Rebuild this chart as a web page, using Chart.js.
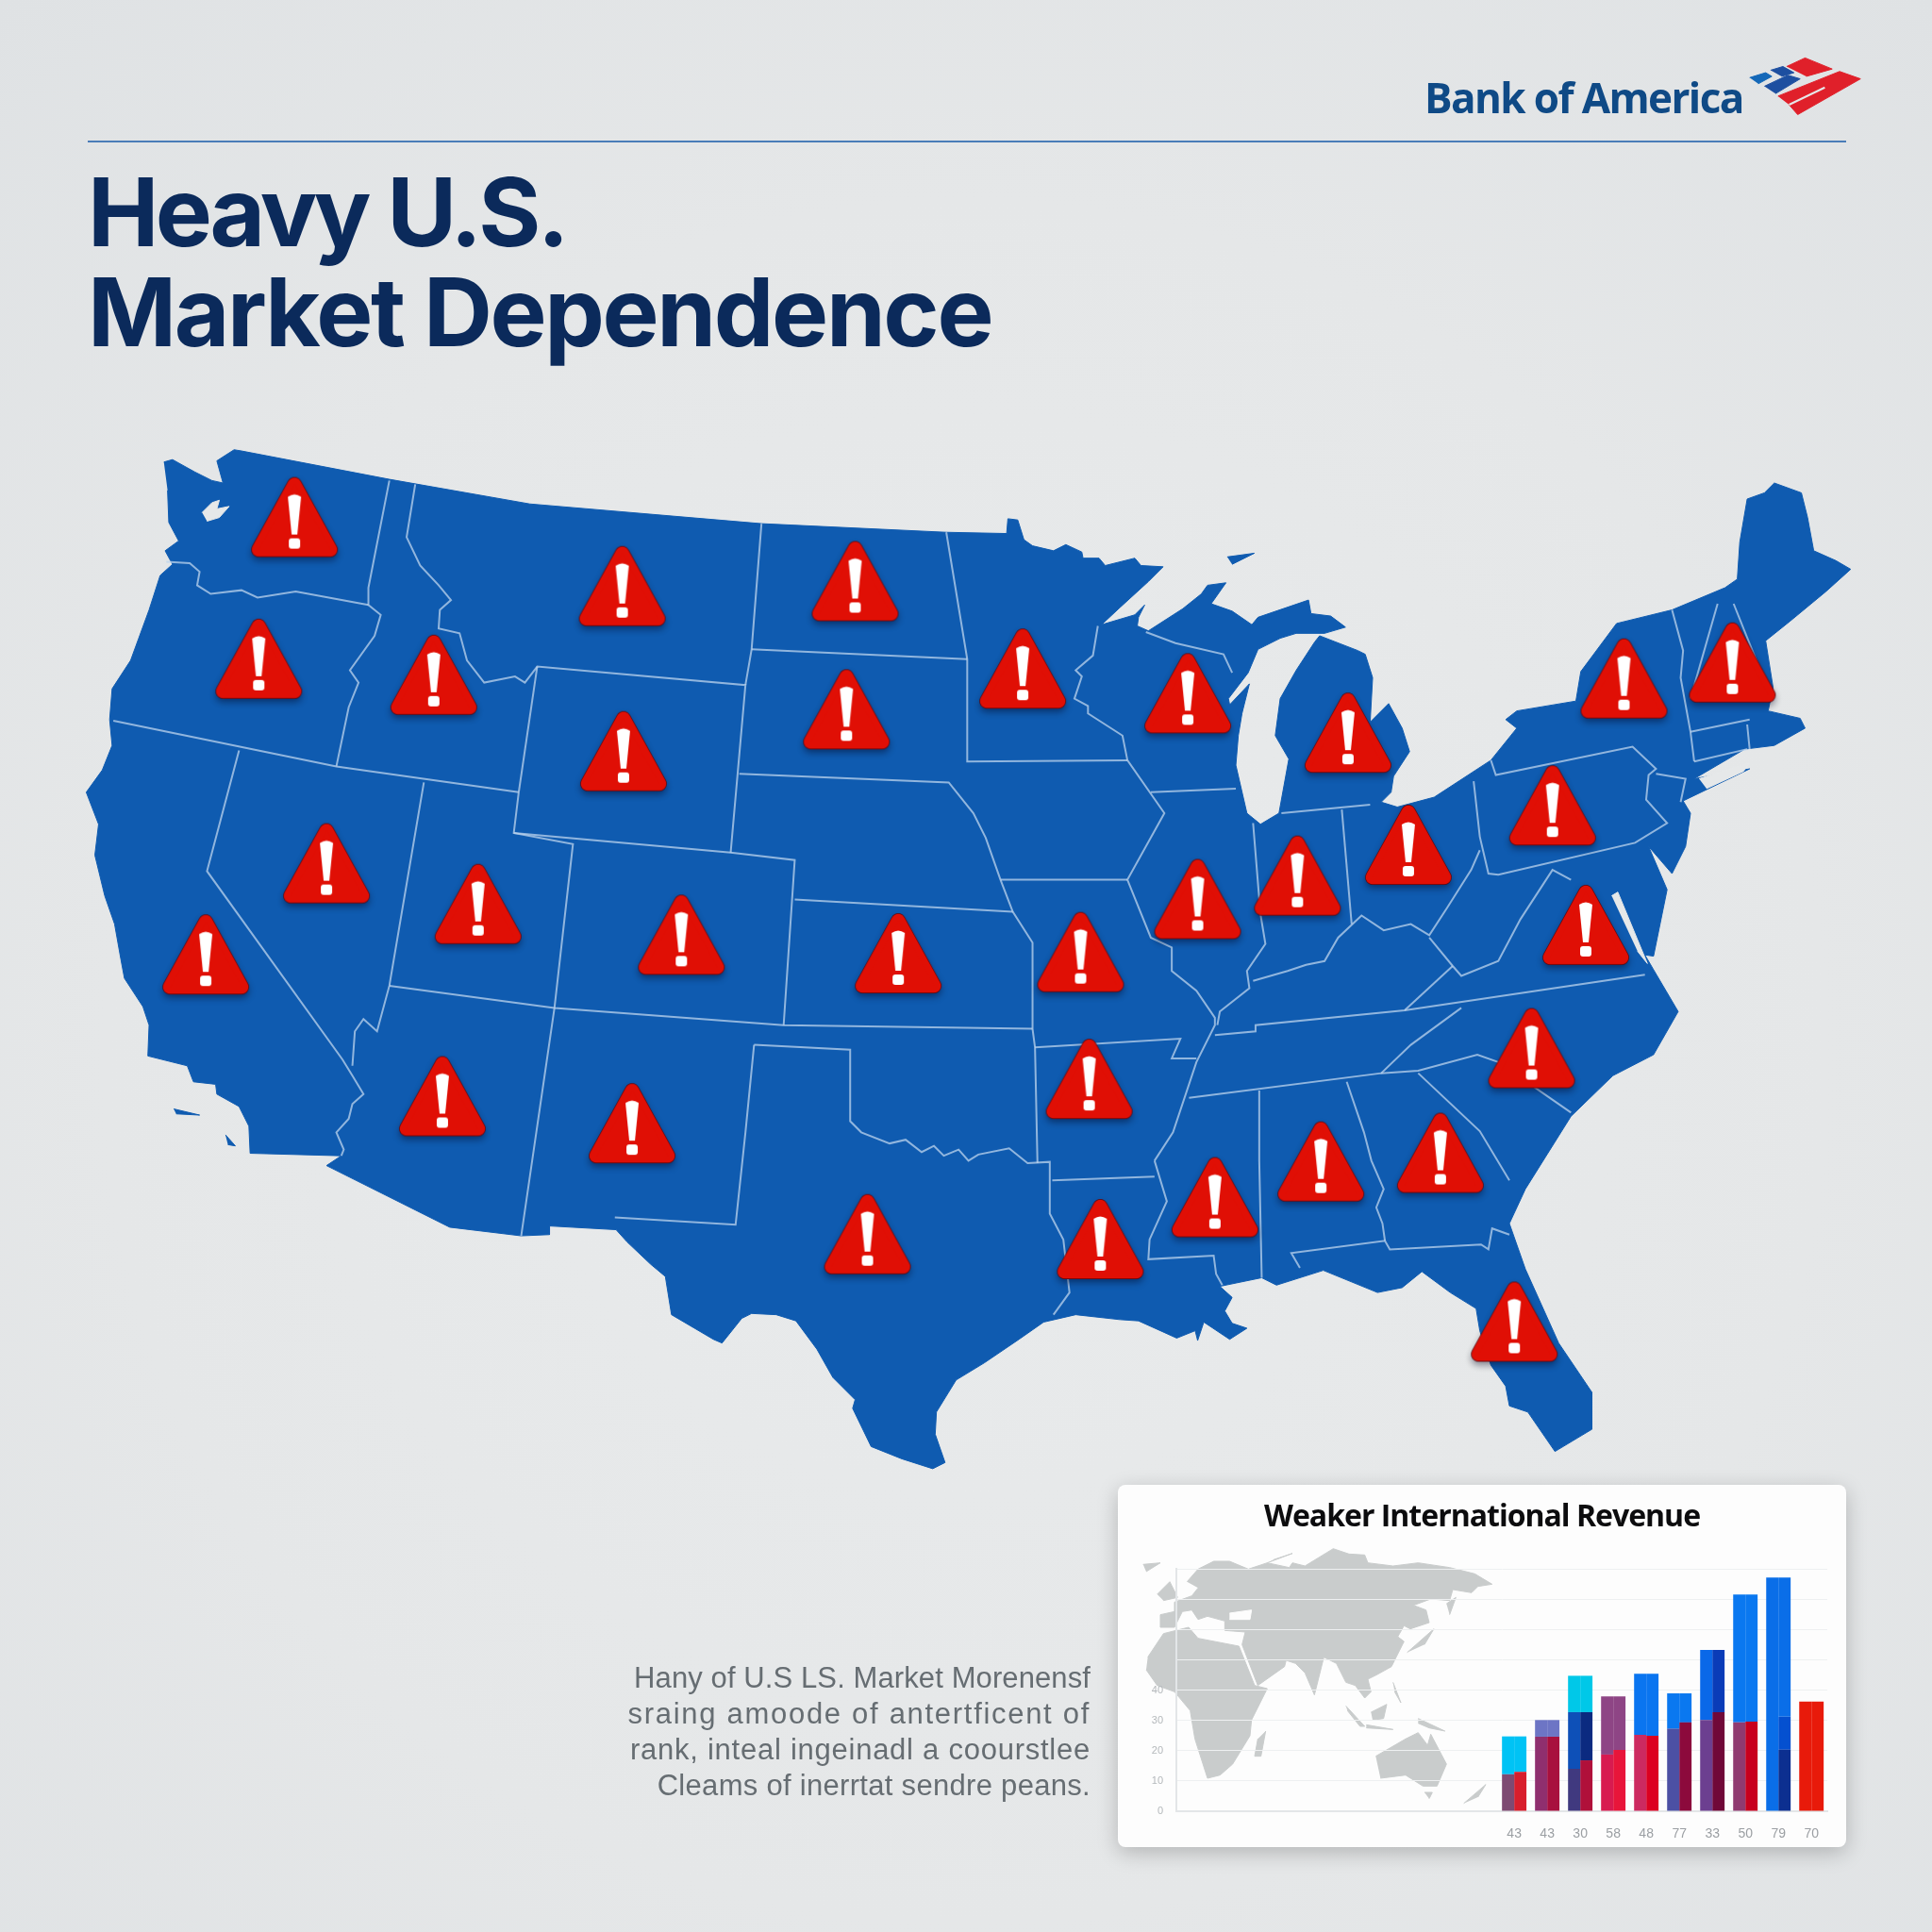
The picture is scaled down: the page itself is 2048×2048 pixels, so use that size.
<!DOCTYPE html>
<html>
<head>
<meta charset="utf-8">
<script src="https://cdn.jsdelivr.net/npm/chart.js@4"></script>
<style>
html, body { margin: 0; padding: 0; }
body { width: 2048px; height: 2048px; position: relative; overflow: hidden; background: radial-gradient(circle at 50% 55%, #e9ebec 0%, #e5e7e8 60%, #dfe2e4 100%); }
canvas { position: absolute; }
#headline { position: absolute; left: 93px; top: 171px; font: 700 101px/106px Inter; color: #0b2a5b; }
#brand { position: absolute; left: 1510px; top: 75px; font: 700 44px/56px "Open Sans"; letter-spacing: -1.6px; color: #0f4a86; }
#rule { position: absolute; left: 93px; top: 149px; width: 1864px; height: 2px; background: #4a7db8; }
#blurb { position: absolute; right: 892px; top: 1760px; text-align: right; font: 400 31px/38px "Liberation Sans"; color: #666d72; white-space: nowrap; }
#card { position: absolute; left: 1185px; top: 1574px; width: 772px; height: 384px; background: #fdfdfd; border-radius: 8px; box-shadow: 0 6px 22px rgba(0,0,0,.22); }
#cardTitle { position: absolute; left: 1185px; top: 1584px; width: 772px; text-align: center; font: 700 32px/44px "Open Sans"; letter-spacing: -1px; color: #0c0c0e; }
</style>
</head>
<body>
<canvas id="mapChart" width="2048" height="2048" style="left:0;top:0;width:2048px;height:2048px"></canvas>
<div id="brand">Bank of America</div>
<div id="rule"></div>
<div id="headline"><span style="letter-spacing:-3.6px">Heavy U.S.</span><br><span style="letter-spacing:-2.4px">Market Dependence</span></div>
<div id="blurb"><span style="letter-spacing:.1px">Hany of U.S LS. Market Morenensf</span><br><span style="letter-spacing:1.7px">sraing amoode of antertficent of</span><br><span style="letter-spacing:.75px">rank, inteal ingeinadl a coourstlee</span><br><span style="letter-spacing:.3px">Cleams of inerrtat sendre peans.</span></div>
<div id="card"></div>
<canvas id="worldChart" width="420" height="410" style="left:1170px;top:1560px;width:420px;height:410px"></canvas>
<div id="cardTitle">Weaker International Revenue</div>
<canvas id="barChart" width="772" height="384" style="left:1185px;top:1574px;width:772px;height:384px"></canvas>
<script>
// inset bars
const barLabels = ['43', '43', '30', '58', '48', '77', '33', '50', '79', '70'];
const blueTops = [24.7, 30.1, 44.7, 37.9, 45.4, 38.9, 53.2, 71.5, 77.1, 36.2];
const midTopsLeft = [12.2, 24.6, 32.7, 18.7, 25.2, 27.2, 30.1, 29.3, 0, 36.2];
const midTopsRight = [13, 24.6, 32.7, 20.2, 24.9, 29.3, 32.7, 29.6, 31.2, 36.2];
const redTopsLeft = [12.2, 24.6, 14, 18.7, 25.2, 27.2, 30.1, 29.3, 0, 36.2];
const redTopsRight = [13, 24.6, 16.8, 20.2, 24.9, 29.3, 32.7, 29.6, 20.3, 36.2];
const yTicks = [0, 10, 20, 30, 40, 50, 60, 70, 80];
const yTickLabels = ['0', '10', '20', '30', '40', '', '', '', ''];

const topColors = ['#00c3f5', '#6d75c5', '#00c8e8', '#8e4585', '#0a75f0', '#0a78f0', '#0a68e8', '#0a78f0', '#0a6ee8', '#e81a0a'];
const topColorsRight = ['#00c3f5', '#6d75c5', '#00c8e8', '#8e4585', '#0a75f0', '#0a78f0', '#0a3cb8', '#0a78f0', '#0a6ee8', '#e81a0a'];
const midColors = ['#7e4a72', '#8f2f6e', '#0e50b8', '#d81b50', '#cc2a60', '#4c50a4', '#6c3f90', '#903a70', '#0a6ee8', '#e81a0a'];
const midColorsRight = ['#d81e2c', '#a8103e', '#0b2a80', '#e8153a', '#dc0020', '#8c0a3c', '#700838', '#c8001e', '#0450d0', '#e81a0a'];
const redColors = ['#7e4a72', '#8f2f6e', '#40397f', '#d81b50', '#cc2a60', '#4c50a4', '#6c3f90', '#903a70', '#0a6ee8', '#e81a0a'];
const redColorsRight = ['#d81e2c', '#a8103e', '#b0103a', '#e8153a', '#dc0020', '#8c0a3c', '#700838', '#c8001e', '#0c2f90', '#e81a0a'];

// map of the lower 48
const usOutline = [
  [133,375],[140,373],[158,383],[172,390],[181,392],[176,374],[190,365],[196,366],[316,389],[430,409],[618,425],[768,432],[817,433],[818,421],[826,422],[831,438],[838,443],[855,447],[865,442],[878,448],[879,453],[892,453],[897,459],[921,453],[926,459],[944,460],
  [932,472],[909,493],[894,507],[921,499],[929,491],[924,501],[923,508],[932,512],[960,494],[975,482],[980,475],[995,473],[983,490],[1000,496],[1016,507],[1021,501],[1062,487],[1064,498],[1080,500],[1092,509],[1075,514],
  [1052,514],[1039,518],[1021,527],[1013,546],[997,567],[998,572],[1014,555],[1008,579],[1005,597],[1003,621],[1012,660],[1023,669],[1038,660],[1046,616],[1035,597],[1039,567],[1052,544],[1067,521],[1071,516],
  [1102,528],[1108,531],[1114,550],[1112,586],[1127,571],[1138,591],[1144,610],[1131,630],[1129,643],[1121,651],[1134,655],[1164,647],[1210,617],[1231,591],[1222,584],[1231,577],[1279,569],[1283,545],[1312,506],[1357,495],[1400,477],[1410,470],[1412,440],[1418,405],[1432,400],[1440,392],[1462,400],[1467,420],[1472,447],[1490,455],[1502,462],[1482,480],[1453,504],[1433,520],[1439,558],[1435,577],[1461,583],[1465,591],[1440,605],[1416,608],[1375,632],[1420,624],[1366,650],[1372,660],[1368,687],[1357,709],[1338,687],[1353,722],[1342,776],[1335,775],[1342,787],[1362,821],[1342,856],[1309,873],[1275,906],[1238,965],[1225,993],[1238,1030],[1265,1090],[1292,1130],[1292,1160],[1262,1178],[1240,1146],[1225,1141],[1222,1125],[1210,1108],[1201,1080],[1198,1062],[1177,1049],[1154,1032],[1138,1045],[1118,1049],[1074,1031],[1036,1043],[1024,1037],[990,1044],[1000,1053],[994,1064],[1000,1074],[1012,1078],[998,1087],[977,1073],[972,1088],[970,1080],[955,1086],[944,1081],[924,1072],[909,1071],[873,1067],[847,1073],[827,1087],[799,1106],[776,1120],[760,1146],[759,1164],[767,1187],[757,1192],[732,1184],[707,1174],[692,1143],[694,1136],[676,1118],[663,1095],[646,1072],[630,1067],[610,1066],[602,1070],[586,1090],[579,1087],[545,1067],[540,1036],[528,1026],[509,1008],[500,998],[446,995],[446,1002],[423,1003],[365,996],[265,946],[277,938],[203,936],[202,914],[194,898],[176,888],[175,880],[157,878],[152,865],[120,857],[121,832],[116,817],[101,794],[98,778],[93,750],[85,727],[77,694],[80,669],[70,643],[83,625],[91,605],[89,584],[91,559],[106,536],[121,495],[130,467],[140,458],[134,447],[145,439],[137,424],[136,398]
];
const islands = [[[996,452],[1018,449],[1000,458]], [[141,900],[162,905],[143,904]], [[183,921],[191,930],[185,929]]];
const coastCuts = [
  [[1379,632],[1420,619],[1415,626],[1385,640]],
  [[1308,727],[1313,724],[1337,782],[1329,772]],
  [[164,416],[172,408],[178,406],[176,413],[186,411],[178,420],[168,423]]
];
const stateLines = [
  [[135,456],[154,457],[162,464],[160,475],[171,482],[196,479],[209,485],[240,480],[299,491]],
  [[316,390],[299,477],[299,491],[309,499],[304,516],[284,544],[291,554],[283,574],[273,622]],
  [[92,585],[273,622],[421,643]],
  [[194,609],[168,707],[278,860],[286,873],[295,888],[286,896],[283,908],[273,919],[279,933],[277,938]],
  [[344,635],[316,800],[306,837],[295,827],[288,837],[286,865]],
  [[316,800],[450,818],[636,832],[838,835]],
  [[421,643],[417,676],[465,685],[450,818],[423,1003]],
  [[417,676],[593,692],[645,698],[636,832]],
  [[337,393],[330,436],[341,459],[356,475],[366,487],[357,495],[356,510],[373,514],[379,536],[393,554],[418,549],[426,554],[436,541],[605,556],[593,692]],
  [[436,541],[421,643]],
  [[618,425],[610,527],[605,556]],
  [[610,527],[785,535]],
  [[768,432],[785,535],[785,618],[915,617]],
  [[600,628],[770,635],[790,660],[800,680],[812,714],[822,740],[838,765],[838,835],[840,850],[842,944]],
  [[645,730],[822,740]],
  [[812,714],[915,714]],
  [[612,848],[690,852],[690,910],[699,919],[722,928],[735,925],[748,935],[758,930],[766,938],[778,933],[786,942],[794,937],[819,932],[834,944],[852,943],[852,985],[863,1006],[868,1049],[855,1067]],
  [[612,848],[605,919],[597,994],[499,988]],
  [[840,850],[958,843],[951,859],[971,859]],
  [[854,958],[937,955]],
  [[937,942],[947,975],[933,1006],[932,1022],[985,1019],[987,1034],[992,1043]],
  [[891,508],[887,532],[873,544],[878,549],[872,567],[883,573],[883,579],[911,597],[915,617],[945,660],[915,714],[934,761],[951,769],[951,788],[971,804],[986,826],[986,832],[971,862],[952,919],[937,942]],
  [[930,513],[954,522],[993,531],[1000,546]],
  [[934,643],[1003,640]],
  [[1017,668],[1023,742],[1027,766],[1012,788],[1014,802],[990,821],[988,832]],
  [[1040,660],[1112,653]],
  [[1089,657],[1097,750]],
  [[1017,796],[1045,788],[1060,783],[1075,780],[1086,761],[1105,743],[1123,755],[1145,750],[1160,759],[1175,736],[1194,706],[1201,690]],
  [[1196,634],[1201,679],[1208,709],[1216,710],[1327,684],[1353,668],[1336,649],[1338,629],[1344,624],[1325,606],[1214,629],[1210,617]],
  [[1344,628],[1368,632],[1364,651]],
  [[1160,761],[1179,784],[1186,792],[1216,780],[1234,746],[1260,706],[1275,714]],
  [[1179,784],[1140,820]],
  [[986,840],[1019,837],[1019,832],[1140,820],[1335,791]],
  [[965,891],[1121,871],[1151,869],[1199,856],[1216,862],[1275,903]],
  [[1121,871],[1145,848],[1186,818]],
  [[1151,871],[1201,918],[1225,958]],
  [[1022,885],[1022,942],[1024,1037]],
  [[1093,878],[1107,919],[1113,942],[1123,965],[1117,980],[1122,993],[1124,1007]],
  [[1055,1029],[1048,1017],[1124,1007],[1128,1014],[1202,1010],[1208,1014],[1211,997],[1225,1002]],
  [[1357,495],[1366,528],[1364,550],[1372,594],[1375,618]],
  [[1394,490],[1372,567]],
  [[1407,490],[1431,550]],
  [[1372,594],[1420,584]],
  [[1418,588],[1420,608]],
  [[1375,618],[1418,608]]
];
const alertX = [239,210,352,505,694,687,506,830,964,1094,1318,1406,1260,1143,1053,972,1287,265,167,388,553,729,877,884,1243,1169,1072,986,893,704,513,359,1229];
const alertY = [420,535,548,476,472,576,610,543,563,595,551,538,654,686,711,730,751,701,775,734,759,774,773,876,851,936,943,972,1006,1002,912,890,1073];

// grey world map in the card
const worldShapes = [
  [[265,350],[300,310],[350,285],[400,285],[460,310],[520,290],[590,305],[600,290],[640,300],[730,245],[780,262],[830,265],[840,290],[920,300],[1000,290],[1100,305],[1180,325],[1235,358],[1190,365],[1170,385],[1110,375],[1100,410],[1040,405],[985,425],[1025,440],[1035,480],[975,500],[955,490],[935,525],[955,540],[940,570],[915,620],[870,645],[840,660],[850,700],[830,720],[800,680],[770,670],[740,610],[700,590],[670,710],[640,640],[610,610],[580,600],[575,620],[490,680],[440,550],[450,510],[385,505],[385,475],[330,460],[300,470],[280,440],[250,445],[225,495],[180,495],[180,455],[225,445],[225,415],[280,395],[300,370]],
  [[140,590],[190,515],[270,495],[300,530],[430,555],[480,680],[520,690],[470,790],[465,840],[410,930],[370,965],[330,975],[290,850],[275,760],[225,700],[170,680],[135,630]],
  [[515,825],[500,905],[480,905],[490,850]],
  [[865,905],[960,850],[1000,830],[1030,870],[1040,835],[1090,930],[1060,1000],[1015,1000],[960,965],[880,975]],
  [[1020,1020],[1045,1020],[1035,1040]],
  [[1145,1055],[1215,995],[1190,1035]],
  [[770,745],[830,810],[815,810],[775,760]],
  [[850,765],[900,740],[890,785],[855,790]],
  [[835,805],[920,820],[835,815]],
  [[1000,785],[1085,825],[1035,815],[1000,800]],
  [[920,670],[945,735],[925,700]],
  [[965,575],[1050,500],[1020,550]],
  [[1090,420],[1120,400],[1100,455]],
  [[170,390],[210,350],[235,400],[190,410]],
  [[125,295],[180,290],[135,318]],
  [[520,290],[600,260],[540,280]]
];
const worldHoles = [[[400,450],[470,440],[465,470],[400,470]]];

// logo flag
const flagShapes = [
  { color: '#1468b8', pts: [[1420,63],[1433,59],[1438,62],[1427,68]] },
  { color: '#1d4fa0', pts: [[1432,70],[1451,61],[1461,64],[1441,76]] },
  { color: '#1d4fa0', pts: [[1437,57],[1447,54],[1456,59],[1446,62]] },
  { color: '#e0202a', pts: [[1450,54],[1465,47],[1487,56],[1466,62]] },
  { color: '#e0202a', pts: [[1443,78],[1493,58],[1510,64],[1459,93],[1452,85]] }
];

const pageGrey = '#e6e8e9';
const toXY = pts => pts.map(p => ({ x: p[0], y: p[1] }));
const hidden = (max) => ({ type: 'linear', min: 0, max: max, display: false });

function shapeSet(pts, color) {
  return { type: 'scatter', data: toXY(pts), showLine: true, fill: 'shape', backgroundColor: color, borderColor: color, borderWidth: 1, pointRadius: 0, tension: 0 };
}

// one red warning sign, handed to the chart as its point image
function alertIcon() {
  const c = document.createElement('canvas');
  c.width = 120; c.height = 116;
  const g = c.getContext('2d');
  g.lineJoin = 'round';
  const tri = () => { g.beginPath(); g.moveTo(60, 23); g.lineTo(22, 92); g.lineTo(98, 92); g.closePath(); };
  g.shadowColor = 'rgba(0,0,30,.4)'; g.shadowBlur = 7; g.shadowOffsetY = 4;
  tri(); g.lineWidth = 16; g.strokeStyle = '#5a0a12'; g.fillStyle = '#5a0a12'; g.stroke(); g.fill();
  g.shadowColor = 'transparent';
  tri(); g.lineWidth = 14.5; g.strokeStyle = '#e00f05'; g.fillStyle = '#e00f05'; g.stroke(); g.fill();
  g.fillStyle = '#fff';
  g.beginPath(); g.moveTo(53, 36); g.quadraticCurveTo(60, 31, 67, 36); g.lineTo(63, 76); g.lineTo(57, 76); g.closePath(); g.fill();
  g.beginPath(); g.roundRect(54, 80, 12, 11, 3); g.fill();
  return c;
}

new Chart(document.getElementById('mapChart'), {
  type: 'scatter',
  data: {
    datasets: [
      { data: alertX.map((x, i) => ({ x: x, y: alertY[i] })), pointStyle: alertIcon(), pointRadius: 30, showLine: false, order: 0 },
      { data: toXY([[1452,85],[1481,71]]), showLine: true, borderColor: pageGrey, borderWidth: 2, pointRadius: 0, order: 1 },
      ...flagShapes.map(s => Object.assign(shapeSet(s.pts, s.color), { order: 1 })),
      ...stateLines.map(l => ({ data: toXY(l), showLine: true, borderColor: 'rgba(190,212,238,.75)', borderWidth: 2, pointRadius: 0, tension: 0, order: 2 })),
      ...coastCuts.map(s => Object.assign(shapeSet(s, pageGrey), { order: 3 })),
      ...islands.map(s => Object.assign(shapeSet(s, '#0f5bb0'), { order: 4 })),
      Object.assign(shapeSet(usOutline, '#0f5bb0'), { order: 4 })
    ]
  },
  options: {
    animation: false, responsive: false, devicePixelRatio: 1,
    layout: { autoPadding: false },
    plugins: { legend: { display: false }, tooltip: { enabled: false } },
    scales: { x: hidden(1568), y: Object.assign(hidden(1568), { reverse: true }) }
  }
});

new Chart(document.getElementById('worldChart'), {
  type: 'scatter',
  data: {
    datasets: [
      ...worldHoles.map(s => Object.assign(shapeSet(s, '#fdfdfd'), { order: 0 })),
      ...worldShapes.map(s => Object.assign(shapeSet(s, '#c9cccc'), { order: 1 }))
    ]
  },
  options: {
    animation: false, responsive: false, devicePixelRatio: 1,
    layout: { autoPadding: false },
    plugins: { legend: { display: false }, tooltip: { enabled: false } },
    scales: { x: hidden(1260), y: Object.assign(hidden(1230), { reverse: true }) }
  }
});

// bars sit in the right half of the plot, the map fills the left half
const leadSlots = 10.23;
const slotX = i => i + leadSlots;
function diffSet(tops, below, colors, stack) {
  return {
    data: tops.map((t, i) => ({ x: slotX(i), y: Math.max(t - (below ? below[i] : 0), 0) })),
    backgroundColor: colors, stack: stack, categoryPercentage: 0.74, barPercentage: 1
  };
}

new Chart(document.getElementById('barChart'), {
  type: 'bar',
  data: {
    datasets: [
      diffSet(redTopsLeft, null, redColors, 'left'),
      diffSet(midTopsLeft, redTopsLeft, midColors, 'left'),
      diffSet(blueTops, midTopsLeft, topColors, 'left'),
      diffSet(redTopsRight, null, redColorsRight, 'right'),
      diffSet(midTopsRight, redTopsRight, midColorsRight, 'right'),
      diffSet(blueTops, midTopsRight, topColorsRight, 'right')
    ]
  },
  options: {
    animation: false, responsive: false, devicePixelRatio: 1,
    layout: { padding: { top: 89, right: 20 }, autoPadding: false },
    plugins: { legend: { display: false }, tooltip: { enabled: false } },
    scales: {
      x: {
        type: 'linear', min: 0, max: 19.71, offset: false,
        grid: { display: false, offset: false },
        border: { color: '#e3e6e8', width: 2 },
        afterBuildTicks: s => { s.ticks = barLabels.map((_, i) => ({ value: slotX(i) })); },
        afterFit: s => { s.height = 38; },
        ticks: {
          autoSkip: false, maxRotation: 0, color: '#9b9fa3', font: { size: 14, family: 'Liberation Sans' }, padding: 8,
          callback: (v, i) => barLabels[i]
        }
      },
      y: {
        min: 0, max: 80, stacked: true,
        grid: { color: '#eef0f1', drawTicks: false },
        border: { color: '#e3e6e8', width: 2 },
        afterBuildTicks: s => { s.ticks = yTicks.map(v => ({ value: v })); },
        afterFit: s => { s.width = 62; },
        ticks: {
          color: '#b4b8bb', font: { size: 11, family: 'Liberation Sans' }, padding: 14,
          callback: (v, i) => yTickLabels[i]
        }
      }
    }
  }
});
</script>
</body>
</html>
